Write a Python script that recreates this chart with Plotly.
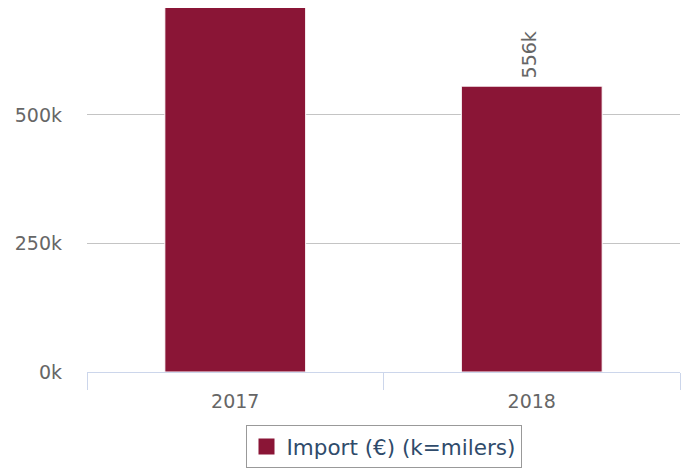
import plotly.graph_objects as go

years = ["2017", "2018"]
imports = [735000, 556000]  # 2017 value exceeds the visible axis (estimated)
series_name = "Import (€) (k=milers)"
y_max = 708000
y_tickvals = [0, 250000, 500000]
y_ticktext = ["0k", "250k", "500k"]

labels = [f"{round(v/1000)}k" for v in imports]
bar_color = "#8a1536"
font = "DejaVu Sans"

fig = go.Figure()
fig.add_trace(go.Bar(
    x=years, y=imports, name=series_name,
    marker=dict(color=bar_color, line=dict(color="white", width=1)),
    showlegend=False, cliponaxis=True,
))
# legend-only entry (larger square swatch)
fig.add_trace(go.Scatter(
    x=years[:1], y=[None], mode="markers", name=series_name,
    marker=dict(symbol="square", size=20, color=bar_color),
    showlegend=True, hoverinfo="skip",
))

# value labels above bars that fit within the axis range
for i, (v, lab) in enumerate(zip(imports, labels)):
    if v <= y_max:
        fig.add_annotation(
            x=i, y=v, text=lab, textangle=-90, showarrow=False,
            yanchor="bottom", xanchor="center", yshift=6, xshift=-3,
            font=dict(family=font, size=19, color="#666666"),
        )

# page body has an 8px margin, so figure is sized to fit the 692x473 window
fig.update_layout(
    width=684, height=465,
    margin=dict(l=79, r=12, t=0, b=101, autoexpand=False),
    paper_bgcolor="white", plot_bgcolor="white",
    font=dict(family=font, size=19, color="#666666"),
    bargap=0.525,
    showlegend=True,
    legend=dict(
        orientation="h", x=0.5, xanchor="center", y=-0.1456, yanchor="top",
        bordercolor="#999999", borderwidth=1, bgcolor="white",
        font=dict(family=font, size=21.5, color="#2f4b6b"),
        itemsizing="trace",
    ),
    xaxis=dict(
        type="category", categoryarray=years, categoryorder="array",
        showline=True, linecolor="#ccd6eb", linewidth=1,
        ticks="outside", ticklen=17, tickcolor="#ccd6eb", tickson="boundaries",
        ticklabelstandoff=12,
        showgrid=False, tickfont=dict(size=19, color="#666666"), automargin=False,
    ),
    yaxis=dict(
        range=[0, y_max], tickvals=y_tickvals, ticktext=y_ticktext,
        showgrid=True, gridcolor="#c4c4c4", gridwidth=1, zeroline=False,
        showline=False, ticks="", ticklabelstandoff=24, automargin=False,
        tickfont=dict(size=19, color="#666666"),
    ),
)

fig.write_html("out.html")
